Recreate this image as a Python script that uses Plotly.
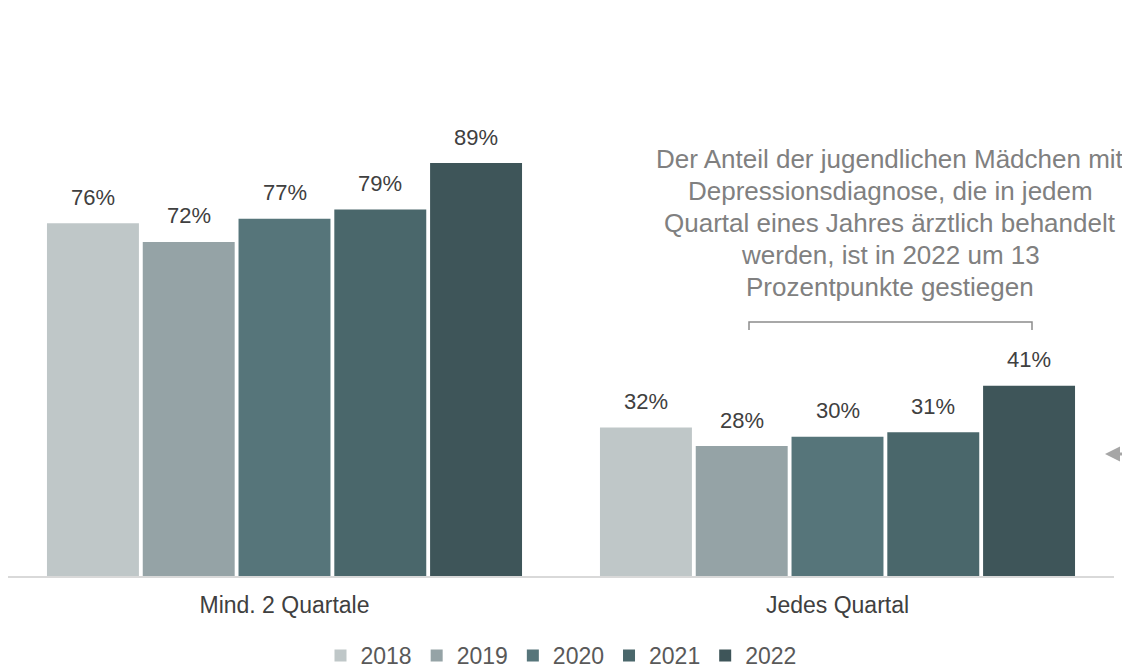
import plotly.graph_objects as go

categories = ["Mind. 2 Quartale", "Jedes Quartal"]
years = ["2018", "2019", "2020", "2021", "2022"]
values = {
    "2018": [76, 32],
    "2019": [72, 28],
    "2020": [77, 30],
    "2021": [79, 31],
    "2022": [89, 41],
}
colors = ["#bfc7c8", "#95a3a6", "#56757a", "#4a676b", "#3e5559"]
note_lines = [
    "Der Anteil der jugendlichen Mädchen mit",
    "Depressionsdiagnose, die in jedem",
    "Quartal eines Jahres ärztlich behandelt",
    "werden, ist in 2022 um 13",
    "Prozentpunkte gestiegen",
]

FONT = "Arial, Liberation Sans, sans-serif"
fig = go.Figure()
bargap = 0.134
n = len(years)
slot = (1 - bargap) / n
for i, y in enumerate(years):
    fig.add_trace(go.Bar(
        name=y, x=[0, 1], y=values[y],
        marker=dict(color=colors[i], line=dict(width=0)),
        hoverinfo="skip",
    ))
    for j, v in enumerate(values[y]):
        fig.add_annotation(
            x=j + (i - (n - 1) / 2) * slot, y=v, xref="x", yref="y",
            text=f"{v}%", showarrow=False, yanchor="middle", yshift=26,
            font=dict(size=22, color="#404040", family=FONT),
        )

PX = 4.64  # pixels per percentage point (464 px plot height / 100)
for k, line in enumerate(note_lines):
    fig.add_annotation(
        x=(890 - 8) / 1106, xref="paper", y=(576 - (159 + 32 * k)) / PX, yref="y",
        text=line, showarrow=False, xanchor="center", yanchor="middle",
        font=dict(size=26, color="#808080", family=FONT),
    )

# bracket
x0p, x1p = (749 - 8) / 1106, (1032 - 8) / 1106
ytop, ybot = (576 - 322) / PX, (576 - 330) / PX
fig.add_shape(type="path", xref="paper", yref="y",
              path=f"M {x0p},{ybot} L {x0p},{ytop} L {x1p},{ytop} L {x1p},{ybot}",
              line=dict(color="#8c8c8c", width=1.5))

# arrow at right: shaft + head (paper refs so it is not clipped)
ya_paper = (576 - 454) / 464
fig.add_shape(type="line", xref="paper", yref="paper",
              x0=(1112 - 8) / 1106, x1=(1128 - 8) / 1106, y0=ya_paper, y1=ya_paper,
              line=dict(color="#a6a6a6", width=3))
fig.add_annotation(x=(1105 - 8) / 1106, xref="paper", y=ya_paper, yref="paper",
                   ax=14, ay=0, showarrow=True, arrowhead=2, arrowsize=1.2,
                   arrowwidth=2.5, arrowcolor="#a6a6a6", text="")

fig.update_layout(
    barmode="group", bargap=bargap, bargroupgap=0.04,
    width=1122, height=660,
    margin=dict(l=0, r=16, t=104, b=92, autoexpand=False),
    plot_bgcolor="white", paper_bgcolor="white",
    font=dict(family=FONT, size=20, color="#595959"),
    showlegend=True,
    legend=dict(orientation="h", x=0.5, xanchor="center", y=-0.125, yanchor="top",
                font=dict(size=23, color="#595959"), traceorder="normal",
                itemwidth=30),
    xaxis=dict(tickmode="array", tickvals=[0, 1], ticktext=categories,
               range=[-0.5, 1.5], showline=True, linecolor="#d9d9d9", linewidth=1.5,
               ticks="", tickfont=dict(size=23, color="#404040"), ticklabelstandoff=8,
               showgrid=False, zeroline=False),
    yaxis=dict(range=[0, 100], visible=False, showgrid=False, zeroline=False),
)

fig.write_html("out.html")
